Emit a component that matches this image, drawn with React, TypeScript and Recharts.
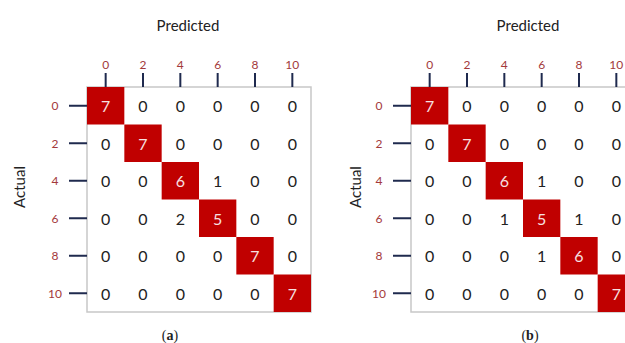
import React from 'react';
import { ScatterChart, Scatter, XAxis, YAxis, ReferenceArea } from 'recharts';

const classTicks = [0, 2, 4, 6, 8, 10];

// confusion matrices, rows = actual, columns = predicted
const matrixA = [
  [7, 0, 0, 0, 0, 0],
  [0, 7, 0, 0, 0, 0],
  [0, 0, 6, 1, 0, 0],
  [0, 0, 2, 5, 0, 0],
  [0, 0, 0, 0, 7, 0],
  [0, 0, 0, 0, 0, 7],
];

const matrixB = [
  [7, 0, 0, 0, 0, 0],
  [0, 7, 0, 0, 0, 0],
  [0, 0, 6, 1, 0, 0],
  [0, 0, 1, 5, 1, 0],
  [0, 0, 0, 1, 6, 0],
  [0, 0, 0, 0, 0, 7],
];

const W = 320;
const H = 343;
const margin = { top: 0, right: 9, bottom: 31, left: 0 };
const AXIS_X_H = 87;
const AXIS_Y_W = 87;
const CELL_W = (W - AXIS_Y_W - margin.right - margin.left) / 6;
const CELL_H = (H - AXIS_X_H - margin.top - margin.bottom) / 6;

const RED = '#C00000';
const TICK_TEXT = '#A3393B';
const TICK_LINE = '#1F2A4E';
const FONT = 'Lato, "Open Sans", sans-serif';

const toCells = (m: number[][]) =>
  m.flatMap((row, r) =>
    row.map((v, c) => ({ x: classTicks[c], y: classTicks[r], value: v, diag: r === c }))
  );

const CellShape = (props: any) => {
  const { cx, cy, payload } = props;
  return (
    <g>
      {payload.diag && (
        <rect x={cx - CELL_W / 2} y={cy - CELL_H / 2} width={CELL_W} height={CELL_H} fill={RED} />
      )}
      <text
        x={cx}
        y={cy}
        textAnchor="middle"
        dominantBaseline="central"
        fontFamily={FONT}
        fontSize={16}
        fill={payload.diag ? '#F7E1E1' : '#222'}
      >
        {payload.value}
      </text>
    </g>
  );
};

const YTick = (props: any) => {
  const { x, y, payload } = props;
  return (
    <text x={x - 12} y={y} textAnchor="middle" dominantBaseline="central" fontFamily={FONT} fontSize={12} fill={TICK_TEXT}>
      {payload.value}
    </text>
  );
};

interface PanelProps {
  matrix: number[][];
  tag: string;
  titleX: number;
  actualX: number;
  tagX: number;
}

const Panel: React.FC<PanelProps> = ({ matrix, tag, titleX, actualX, tagX }) => (
  <ScatterChart width={W} height={H} margin={margin}>
    <XAxis
      type="number"
      dataKey="x"
      orientation="top"
      domain={[-1, 11]}
      ticks={classTicks}
      height={AXIS_X_H}
      axisLine={false}
      tickSize={14}
      tickMargin={4}
      tickLine={{ stroke: TICK_LINE, strokeWidth: 2 }}
      tick={{ fill: TICK_TEXT, fontSize: 12, fontFamily: FONT }}
      allowDataOverflow
    />
    <YAxis
      type="number"
      dataKey="y"
      domain={[-1, 11]}
      reversed
      ticks={classTicks}
      width={AXIS_Y_W}
      axisLine={false}
      tickSize={18}
      tickMargin={2}
      tickLine={{ stroke: TICK_LINE, strokeWidth: 2 }}
      tick={<YTick />}
      allowDataOverflow
    />
    <ReferenceArea x1={-1} x2={11} y1={-1} y2={11} fill="none" stroke="#C8C8C8" strokeWidth={1.5} fillOpacity={0} />
    <Scatter data={toCells(matrix)} shape={<CellShape />} isAnimationActive={false} />
    <text x={titleX} y={31} textAnchor="middle" fontFamily={FONT} fontSize={15} fill="#222">
      Predicted
    </text>
    <text
      x={actualX}
      y={187}
      textAnchor="middle"
      dominantBaseline="central"
      transform={`rotate(-90 ${actualX} 187)`}
      fontFamily={FONT}
      fontSize={15}
      fill="#222"
    >
      Actual
    </text>
    <text x={tagX} y={340} textAnchor="middle" fontFamily='"Liberation Serif", serif' fontSize={14} fill="#222">
      (<tspan fontWeight="bold">{tag}</tspan>)
    </text>
  </ScatterChart>
);

export default function App() {
  return (
    <div style={{ position: 'absolute', left: 0, top: 0, width: 625, height: 343, overflow: 'hidden', background: '#fff' }}>
      <div style={{ position: 'absolute', left: 0, top: 0 }}>
        <Panel matrix={matrixA} tag="a" titleX={188} actualX={19} tagX={170} />
      </div>
      <div style={{ position: 'absolute', left: 324, top: 0 }}>
        <Panel matrix={matrixB} tag="b" titleX={204} actualX={31} tagX={206} />
      </div>
    </div>
  );
}
